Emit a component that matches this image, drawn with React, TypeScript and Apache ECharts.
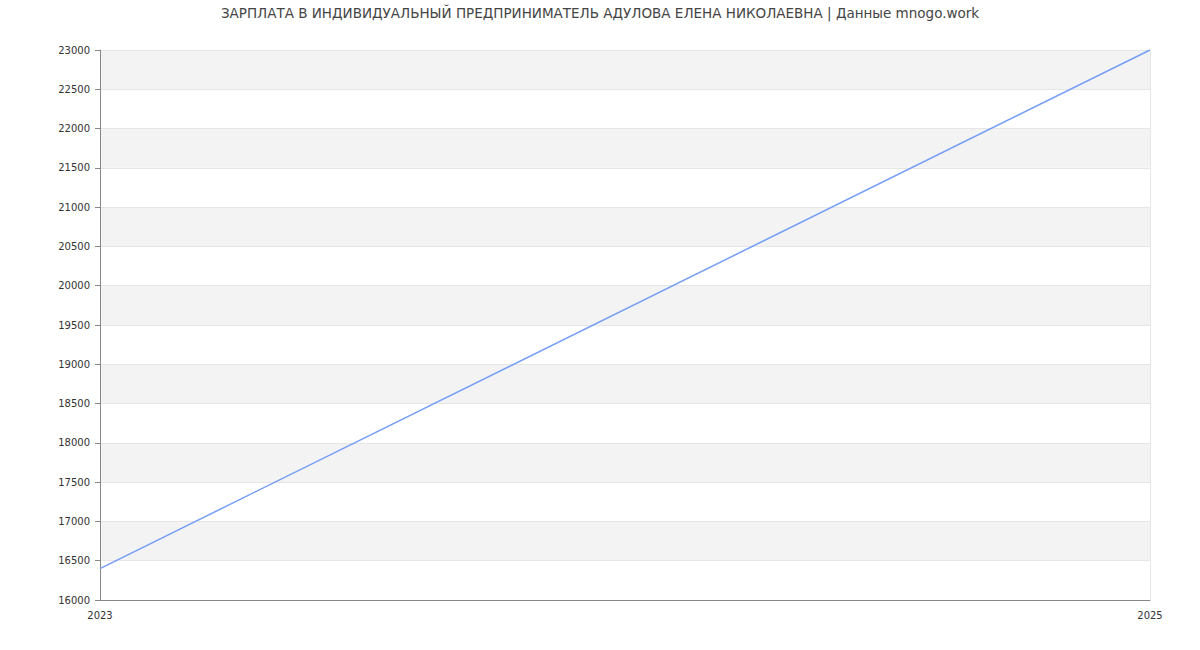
import { useEffect, useRef } from 'react';
import * as echarts from 'echarts';

const TITLE = 'ЗАРПЛАТА В ИНДИВИДУАЛЬНЫЙ ПРЕДПРИНИМАТЕЛЬ АДУЛОВА ЕЛЕНА НИКОЛАЕВНА | Данные mnogo.work';
const YEARS = ['2023', '2025'];
const SALARY = [16400, 23000];

const AXIS_COLOR = '#888888';
const SPLIT_COLOR = '#e6e6e6';
const LABEL_COLOR = '#333333';
const LINE_COLOR = '#769ef5';

export default function App() {
  const ref = useRef<HTMLDivElement>(null);

  useEffect(() => {
    if (!ref.current) return;
    const chart = echarts.init(ref.current, undefined, { renderer: 'svg' });
    chart.setOption({
      animation: false,
      backgroundColor: '#ffffff',
      textStyle: { fontFamily: 'DejaVu Sans' },
      title: {
        text: TITLE,
        left: 'center',
        top: 1,
        textStyle: { fontSize: 13.5, fontWeight: 'normal', color: '#444444', fontFamily: 'DejaVu Sans' },
      },
      grid: { left: 100, right: 50, top: 50, bottom: 50 },
      xAxis: {
        type: 'category',
        data: YEARS,
        boundaryGap: false,
        axisLine: { lineStyle: { color: AXIS_COLOR } },
        axisTick: { show: false },
        axisLabel: { color: LABEL_COLOR, fontSize: 10, margin: 10 },
        splitLine: { show: true, lineStyle: { color: SPLIT_COLOR } },
      },
      yAxis: {
        type: 'value',
        min: 16000,
        max: 23000,
        interval: 500,
        axisLine: { show: true, lineStyle: { color: AXIS_COLOR } },
        axisTick: { show: true, length: 5, lineStyle: { color: AXIS_COLOR } },
        axisLabel: { color: LABEL_COLOR, fontSize: 10, margin: 10, formatter: (v: number) => String(v) },
        splitLine: { show: true, lineStyle: { color: SPLIT_COLOR } },
        splitArea: { show: true, areaStyle: { color: ['#ffffff', '#f3f3f3'] } },
      },
      series: [
        {
          type: 'line',
          data: SALARY,
          symbol: 'none',
          lineStyle: { color: LINE_COLOR, width: 1.5 },
        },
      ],
    });
    return () => chart.dispose();
  }, []);

  return <div ref={ref} style={{ position: 'fixed', left: 0, top: 0, width: 1200, height: 650 }} />;
}
